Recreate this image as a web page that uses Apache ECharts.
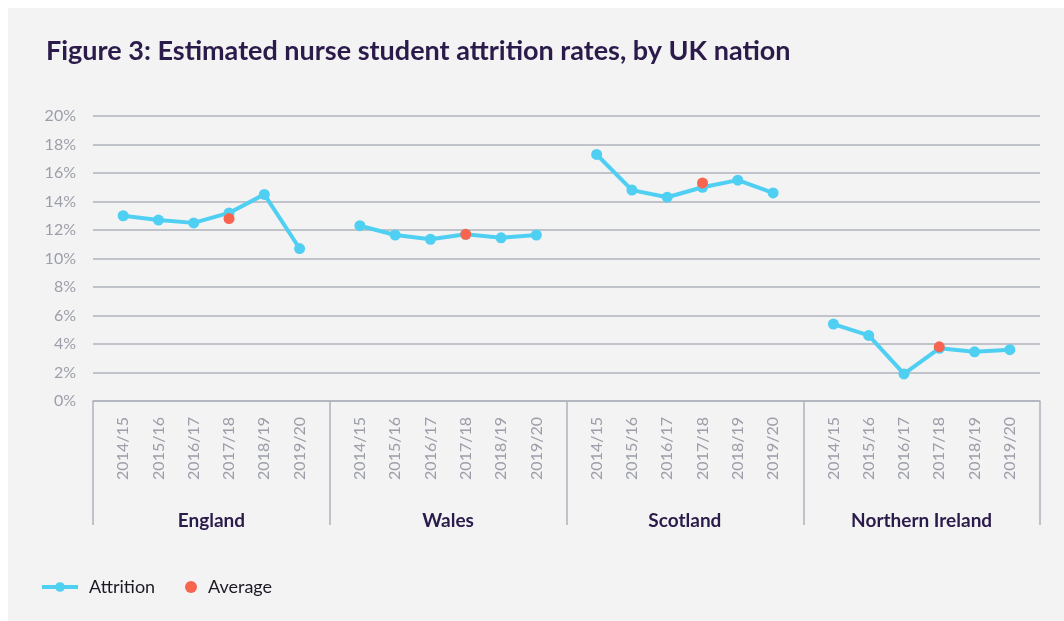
<!DOCTYPE html>
<html><head><meta charset="utf-8">
<script src="https://cdn.jsdelivr.net/npm/echarts@6/dist/echarts.min.js"></script>
<style>html,body{margin:0;padding:0;background:#fff}#c{width:1064px;height:621px}</style>
</head><body><div id="c"></div>
<script>
// ---- data ----
const nations = ['England', 'Wales', 'Scotland', 'Northern Ireland'];
const years = ['2014/15', '2015/16', '2016/17', '2017/18', '2018/19', '2019/20'];
const england = [13.0, 12.7, 12.5, 13.2, 14.5, 10.7];
const wales = [12.3, 11.65, 11.35, 11.7, 11.45, 11.65];
const scotland = [17.3, 14.8, 14.3, 15.0, 15.5, 14.6];
const northernIreland = [5.4, 4.6, 1.9, 3.7, 3.45, 3.6];
const averages = [12.8, 11.7, 15.3, 3.8];
const averageYear = '2017/18';
const yMax = 20, yStep = 2;

// ---- layout ----
const seriesByNation = [england, wales, scotland, northernIreland];
const plotLeft = 93, plotRight = 1040, plotTop = 116, plotBottom = 401;
const W = 1064, H = 621;
const groupW = (plotRight - plotLeft) / nations.length;
const inset = 12.5;
const CYAN = '#4fcff2', RED = '#f7654f', GRID = '#b0b3bd', GRAY = '#9c9ea9', DARK = '#2b1b4b';
const FONT = 'Lato, "Noto Sans", sans-serif';

const grids = [{left: plotLeft, right: W - plotRight, top: plotTop, bottom: H - plotBottom}];
const xAxes = [{
  type: 'category', gridIndex: 0, data: nations, boundaryGap: true,
  axisLine: {show: true, lineStyle: {color: GRID, width: 1.5}},
  axisTick: {show: true, interval: 0, length: 124, lineStyle: {color: GRID, width: 1.5}},
  axisLabel: {margin: 110, fontSize: 19, fontWeight: 'bold', color: DARK, fontFamily: FONT, interval: 0},
  splitLine: {show: false}
}];
const yAxes = [{
  type: 'value', gridIndex: 0, min: 0, max: yMax, interval: yStep,
  axisLine: {show: false}, axisTick: {show: false},
  axisLabel: {formatter: '{value}%', color: GRAY, fontSize: 16, margin: 17, fontFamily: FONT},
  splitLine: {lineStyle: {color: GRID, width: 1.5}}
}];
const series = [];
nations.forEach((n, i) => {
  const gi = i + 1;
  const left = plotLeft + i * groupW + inset;
  grids.push({left: left, width: groupW - 2 * inset, top: plotTop, bottom: H - plotBottom});
  xAxes.push({
    type: 'category', gridIndex: gi, data: years, boundaryGap: true,
    axisLine: {show: false}, axisTick: {show: false}, splitLine: {show: false},
    axisLabel: {rotate: 90, margin: 16, color: GRAY, fontSize: 16, fontFamily: FONT, interval: 0}
  });
  yAxes.push({type: 'value', gridIndex: gi, min: 0, max: yMax, show: false, splitLine: {show: false}});
  series.push({
    name: 'Attrition', type: 'line', xAxisIndex: gi, yAxisIndex: gi,
    data: seriesByNation[i], symbol: 'circle', symbolSize: 11, showSymbol: true,
    itemStyle: {color: CYAN, opacity: 1}, lineStyle: {color: CYAN, width: 4}, z: 3
  });
  series.push({
    name: 'Average', type: 'scatter', xAxisIndex: gi, yAxisIndex: gi,
    data: [[averageYear, averages[i]]], symbol: 'circle', symbolSize: 11,
    itemStyle: {color: RED, opacity: 1}, z: 5
  });
});

const legendText = {fontSize: 18, color: '#1a1a24', fontFamily: FONT};
const chart = echarts.init(document.getElementById('c'), null, {renderer: 'canvas'});
chart.setOption({
  backgroundColor: '#ffffff',
  animation: false,
  graphic: [{type: 'rect', left: 8, top: 8, shape: {width: W - 8, height: H - 8}, style: {fill: '#f3f3f3'}, z: -10, silent: true}],
  title: {
    text: 'Figure 3: Estimated nurse student attrition rates, by UK nation',
    left: 41, top: 33,
    textStyle: {fontSize: 27, fontWeight: 'bold', color: DARK, fontFamily: FONT}
  },
  legend: [
    {data: ['Attrition'], left: 40, top: 578, padding: 0, itemWidth: 36, itemHeight: 12,
     lineStyle: {width: 4}, itemStyle: {opacity: 1},
     textStyle: Object.assign({padding: [0, 0, 0, 6]}, legendText)},
    {data: ['Average'], left: 185, top: 578, padding: 0, itemWidth: 16, itemHeight: 12,
     itemStyle: {opacity: 1},
     textStyle: Object.assign({padding: [0, 0, 0, 4]}, legendText)}
  ],
  grid: grids, xAxis: xAxes, yAxis: yAxes, series: series
});
</script></body></html>
